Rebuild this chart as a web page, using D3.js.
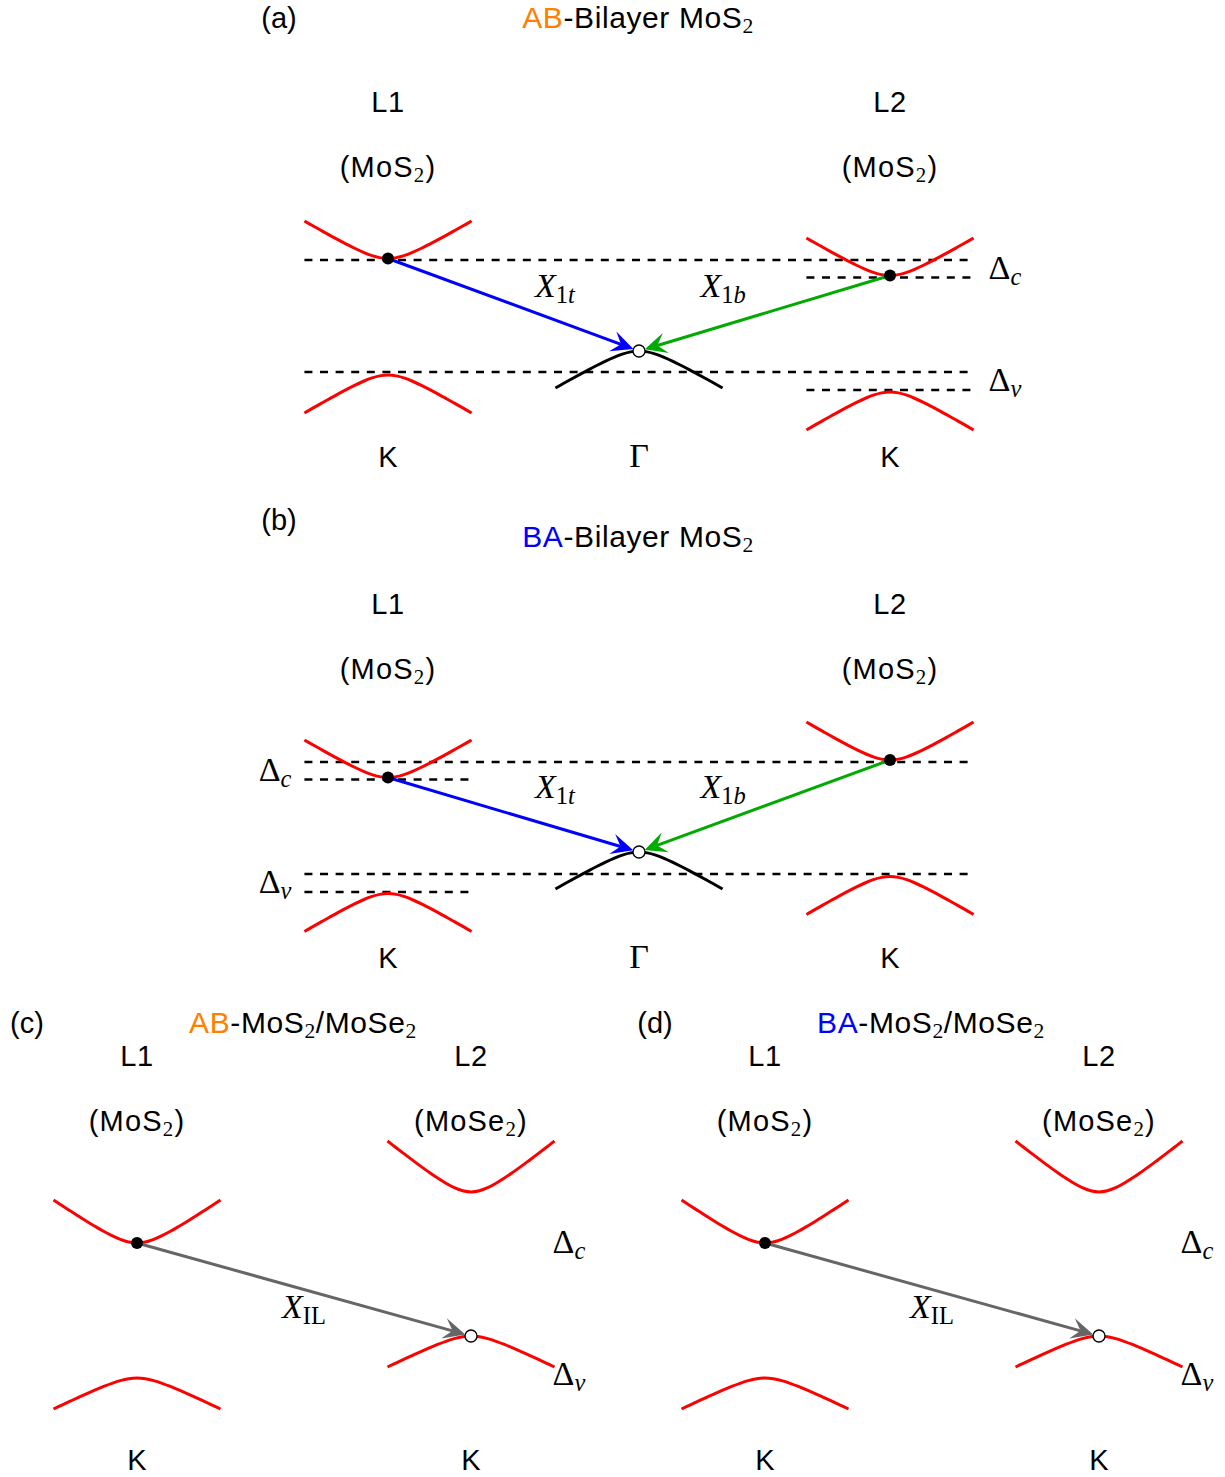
<!DOCTYPE html>
<html><head><meta charset="utf-8">
<script src="https://cdn.jsdelivr.net/npm/d3@7"></script>
<style>body{margin:0;background:#fff} svg{display:block}</style>
</head><body>
<script>
// ================= DATA =================
const panelTags   = ["(a)", "(b)", "(c)", "(d)"];
const stackings   = ["AB", "BA", "AB", "BA"];
const titleBodies = [["-Bilayer MoS", "2"], ["-Bilayer MoS", "2"], ["-MoS", "2", "/MoSe", "2"], ["-MoS", "2", "/MoSe", "2"]];
const layerNames  = ["L1", "L2"];
const materialsBilayer = ["MoS", "MoS"];
const materialsHetero  = ["MoS", "MoSe"];
const valleysBilayer = ["K", "Γ", "K"];
const valleyKBilayer = [-1, 0, 1];
const valleysHetero  = ["K", "K"];
const valleyKHetero  = [-1, 1];
const layerK = [-1, 1];

// band extrema: momentum (k), energy (arb. units), curvature span (+ opens up, - opens down), kind
const bandK_a = [-1, -1, 0, 1, 1];
const bandE_a = [0, -1.165, -0.925, -0.17, -1.335];
const bandD_a = [0.375, -0.38, -0.37, 0.375, -0.38];
const bandT_a = ["c", "v", "g", "c", "v"];

const bandK_b = [-1, -1, 0, 1, 1];
const bandE_b = [-0.175, -1.335, -0.92, 0, -1.165];
const bandD_b = [0.375, -0.38, -0.37, 0.38, -0.38];
const bandT_b = ["c", "v", "g", "c", "v"];

const bandK_c = [-1, -1, 1, 1];
const bandE_c = [0, -1.35, 0.51, -0.93];
const bandD_c = [0.43, -0.31, 0.51, -0.31];
const bandT_c = ["c", "v", "c", "v"];

// normalized band profile (t across band, fraction of curvature span)
const profileT = [-1, -0.9, -0.8, -0.7, -0.6, -0.5, -0.4, -0.3, -0.2, -0.1, 0, 0.1, 0.2, 0.3, 0.4, 0.5, 0.6, 0.7, 0.8, 0.9, 1];
const profileF = [1, 0.873, 0.748, 0.624, 0.502, 0.385, 0.273, 0.171, 0.084, 0.023, 0, 0.023, 0.084, 0.171, 0.273, 0.385, 0.502, 0.624, 0.748, 0.873, 1];

// dashed reference levels: energy, k from, k to
const dashE_a = [-0.015, -0.19, -1.135, -1.315];
const dashK0_a = [-1.333, 0.667, -1.333, 0.667];
const dashK1_a = [1.333, 1.333, 1.333, 1.333];
const dashE_b = [-0.02, -0.195, -1.14, -1.32];
const dashK0_b = [-1.333, -1.333, -1.333, -1.333];
const dashK1_b = [1.333, -0.667, 1.333, -0.667];

// exciton transitions: [k_from, e_from, k_to, e_to]
const transA = [[-1, 0, 0, -0.925], [1, -0.17, 0, -0.925]];
const transB = [[-1, -0.175, 0, -0.92], [1, 0, 0, -0.92]];
const transC = [[-1, 0, 1, -0.93]];
const transNamesBilayer = [["1", "t"], ["1", "b"]];
const transNameHetero = ["IL"];

// gap labels
const gapNames = ["c", "v"];

// ================= DRAWING =================
const W = 1225, H = 1477;
const SANS = "'Liberation Sans', Arial, sans-serif";
const SERIF = "'Liberation Serif', 'Times New Roman', serif";
const RED = "#ff0000", BLUE = "#0000ff", GREEN = "#00aa00", GRAY = "#666666", ORANGE = "#ff8000";
const stackColors = [ORANGE, BLUE, ORANGE, BLUE];
const transColorsBilayer = [BLUE, GREEN];

const svg = d3.select("body").append("svg").attr("width", W).attr("height", H)
  .attr("viewBox", `0 0 ${W} ${H}`);

const SANS_SIZE = 29, TITLE_SIZE = 30, MATH_SIZE = 34;

function rich(g, x, y, segs, size, anchor, spacing) {
  const t = g.append("text").attr("x", x).attr("y", y)
    .attr("text-anchor", anchor || "middle")
    .attr("font-size", size).attr("font-family", SANS).attr("fill", "#000");
  if (spacing) t.attr("letter-spacing", spacing);
  let shift = 0;
  segs.forEach(s => {
    const ts = t.append("tspan").text(s.t);
    if (s.sub) ts.attr("font-size", size * 0.72);
    if (s.serif) ts.attr("font-family", SERIF);
    if (s.italic) ts.attr("font-style", "italic");
    if (s.color) ts.attr("fill", s.color);
    const target = s.sub ? size * 0.18 : 0;
    if (target !== shift) { ts.attr("dy", target - shift); shift = target; }
  });
  return t;
}

const bandLine = d3.line().curve(d3.curveCatmullRom.alpha(0.5));

function drawPanel(cfg) {
  const g = svg.append("g");
  const x = d3.scaleLinear().domain([-1, 1]).range(cfg.xRange);
  const y = d3.scaleLinear().domain([0, -1]).range([cfg.y0, cfg.y0 + 100]);
  const hw = cfg.halfWidth;

  // dashed levels
  if (cfg.dashE) {
    cfg.dashE.forEach((e, i) => {
      g.append("line")
        .attr("x1", x(cfg.dashK0[i])).attr("x2", x(cfg.dashK1[i]))
        .attr("y1", y(e)).attr("y2", y(e))
        .attr("stroke", "#000").attr("stroke-width", 2.4)
        .attr("stroke-dasharray", "8,7.6");
    });
  }

  // bands
  cfg.bandK.forEach((k, i) => {
    const pts = profileT.map((t, j) => [x(k + t * hw), y(cfg.bandE[i] + profileF[j] * cfg.bandD[i])]);
    g.append("path").attr("d", bandLine(pts)).attr("fill", "none")
      .attr("stroke", cfg.bandT[i] === "g" ? "#000" : RED)
      .attr("stroke-width", 3).attr("stroke-linecap", "butt");
  });

  // transitions
  const R = 6;
  cfg.trans.forEach((tr, i) => {
    const x1 = x(tr[0]), y1 = y(tr[1]), x2 = x(tr[2]), y2 = y(tr[3]);
    const dx = x2 - x1, dy = y2 - y1, len = Math.hypot(dx, dy), ux = dx / len, uy = dy / len;
    const nx = -uy, ny = ux;
    const tx = x2 - ux * R, ty = y2 - uy * R;
    const L = 22, Wd = 10.5;
    const col = cfg.transColors[i];
    g.append("line").attr("x1", x1).attr("y1", y1)
      .attr("x2", tx - ux * L * 0.6).attr("y2", ty - uy * L * 0.6)
      .attr("stroke", col).attr("stroke-width", 3);
    g.append("path").attr("d",
      `M${tx},${ty} L${tx - ux * L + nx * Wd},${ty - uy * L + ny * Wd} ` +
      `L${tx - ux * L * 0.6},${ty - uy * L * 0.6} L${tx - ux * L - nx * Wd},${ty - uy * L - ny * Wd} Z`)
      .attr("fill", col);
  });
  cfg.trans.forEach(tr => {
    g.append("circle").attr("cx", x(tr[0])).attr("cy", y(tr[1])).attr("r", R).attr("fill", "#000");
  });
  const seen = new Set();
  cfg.trans.forEach(tr => {
    const key = tr[2] + "," + tr[3];
    if (seen.has(key)) return; seen.add(key);
    g.append("circle").attr("cx", x(tr[2])).attr("cy", y(tr[3])).attr("r", R)
      .attr("fill", "#fff").attr("stroke", "#000").attr("stroke-width", 1.3);
  });

  // texts
  rich(g, cfg.tagX, cfg.tagY, [{ t: cfg.tag }], SANS_SIZE);
  const titleSegs = [{ t: cfg.stack, color: cfg.stackColor }];
  cfg.titleBody.forEach((s, i) => titleSegs.push(i % 2 === 0 ? { t: s } : { t: s, sub: true, serif: true }));
  rich(g, cfg.titleX, cfg.titleY, titleSegs, TITLE_SIZE, "middle", 0.6);

  layerK.forEach((k, i) => {
    rich(g, x(k), cfg.layerY, [{ t: layerNames[i] }], SANS_SIZE, "middle", 0.5);
    rich(g, x(k), cfg.matY, [{ t: "(" }, { t: cfg.materials[i] }, { t: "2", sub: true, serif: true }, { t: ")" }], SANS_SIZE, "middle", 1.2);
  });
  cfg.valleyK.forEach((k, i) => {
    const isG = cfg.valleys[i] === "Γ";
    rich(g, x(k), cfg.valleyY, [{ t: cfg.valleys[i], serif: isG }], isG ? MATH_SIZE : SANS_SIZE);
  });

  cfg.transLabels.forEach((lab, i) => {
    const segs = [{ t: "X", serif: true, italic: true }];
    lab.forEach(p => segs.push({ t: p, sub: true, serif: true, italic: /[a-z]/.test(p) }));
    rich(g, cfg.transLabelX[i](x, y), cfg.transLabelY[i](x, y), segs, MATH_SIZE);
  });

  gapNames.forEach((n, i) => {
    rich(g, cfg.gapX(x), cfg.gapY[i](y),
      [{ t: "Δ", serif: true }, { t: n, sub: true, serif: true, italic: true }], MATH_SIZE, cfg.gapAnchor);
  });
}

// ---- panel (a)
drawPanel({
  xRange: [388, 890], y0: 258.5, halfWidth: 0.333,
  bandK: bandK_a, bandE: bandE_a, bandD: bandD_a, bandT: bandT_a,
  dashE: dashE_a, dashK0: dashK0_a, dashK1: dashK1_a,
  trans: transA, transColors: transColorsBilayer,
  tag: panelTags[0], tagX: 279, tagY: 28,
  stack: stackings[0], stackColor: stackColors[0], titleBody: titleBodies[0], titleX: 638, titleY: 28,
  materials: materialsBilayer, layerY: 112, matY: 177,
  valleys: valleysBilayer, valleyK: valleyKBilayer, valleyY: 467,
  transLabels: transNamesBilayer,
  transLabelX: [(x) => x(0) - 84, (x) => x(0) + 84],
  transLabelY: [(x, y) => y(-0.925) - 54, (x, y) => y(-0.925) - 54],
  gapX: (x) => x(1.333) + 15, gapAnchor: "start",
  gapY: [(y) => (y(dashE_a[0]) + y(dashE_a[1])) / 2 + 10, (y) => (y(dashE_a[2]) + y(dashE_a[3])) / 2 + 10]
});

// ---- panel (b)
drawPanel({
  xRange: [388, 890], y0: 760, halfWidth: 0.333,
  bandK: bandK_b, bandE: bandE_b, bandD: bandD_b, bandT: bandT_b,
  dashE: dashE_b, dashK0: dashK0_b, dashK1: dashK1_b,
  trans: transB, transColors: transColorsBilayer,
  tag: panelTags[1], tagX: 279, tagY: 530,
  stack: stackings[1], stackColor: stackColors[1], titleBody: titleBodies[1], titleX: 638, titleY: 547,
  materials: materialsBilayer, layerY: 614, matY: 679,
  valleys: valleysBilayer, valleyK: valleyKBilayer, valleyY: 968,
  transLabels: transNamesBilayer,
  transLabelX: [(x) => x(0) - 84, (x) => x(0) + 84],
  transLabelY: [(x, y) => y(-0.92) - 54, (x, y) => y(-0.92) - 54],
  gapX: (x) => x(-1.333) - 13, gapAnchor: "end",
  gapY: [(y) => (y(dashE_b[0]) + y(dashE_b[1])) / 2 + 10, (y) => (y(dashE_b[2]) + y(dashE_b[3])) / 2 + 10]
});

// ---- panels (c), (d)
[[137, 471, 2, 27, 303], [765, 1099, 3, 655, 931]].forEach(([xl, xr, idx, tagX, titleX]) => {
  drawPanel({
    xRange: [xl, xr], y0: 1243, halfWidth: 0.5,
    bandK: bandK_c, bandE: bandE_c, bandD: bandD_c, bandT: bandT_c,
    trans: transC, transColors: [GRAY],
    tag: panelTags[idx], tagX: tagX, tagY: 1033,
    stack: stackings[idx], stackColor: stackColors[idx], titleBody: titleBodies[idx], titleX: titleX, titleY: 1033,
    materials: materialsHetero, layerY: 1066, matY: 1131,
    valleys: valleysHetero, valleyK: valleyKHetero, valleyY: 1470,
    transLabels: [transNameHetero],
    transLabelX: [(x) => (x(-1) + x(1)) / 2],
    transLabelY: [(x, y) => (y(0) + y(-0.93)) / 2 + 28],
    gapX: (x) => x(1.5) - 2, gapAnchor: "start",
    gapY: [(y) => y(0) + 10, (y) => y(-1.32) + 10]
  });
});
</script>
</body></html>
